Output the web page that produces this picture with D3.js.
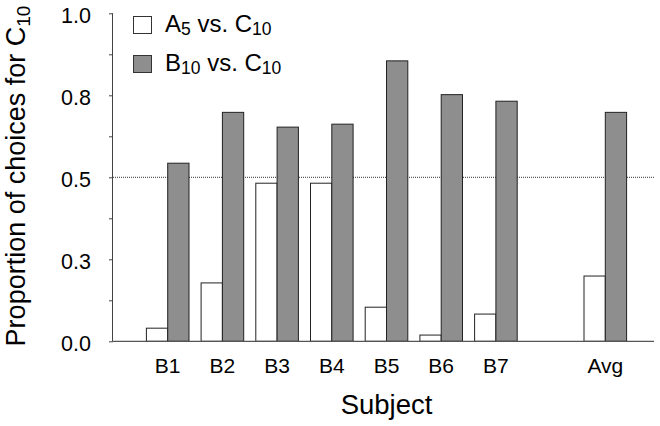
<!DOCTYPE html>
<html><head><meta charset="utf-8">
<script src="https://cdn.jsdelivr.net/npm/d3@7"></script>
<style>body{margin:0;background:#fff}svg text{font-family:"Liberation Sans",Arial,sans-serif;fill:#000}</style>
</head><body><svg id="c" width="660" height="426"></svg>
<script>
const subjects = ["B1","B2","B3","B4","B5","B6","B7","","Avg"];
const seriesA5 = [0.04,0.178,0.482,0.482,0.104,0.019,0.083,null,0.199];
const seriesB10 = [0.543,0.698,0.653,0.662,0.855,0.752,0.732,null,0.698];
const yTicks = [0,0.25,0.5,0.75,1.0];
const yTickLabels = ["0.0","0.3","0.5","0.8","1.0"];
const yMinorTicks = [0,0.125,0.25,0.375,0.5,0.625,0.75,0.875,1.0];

const svg = d3.select("#c");
const axL = 113, axR = 654, yTop = 13.3, yBot = 341.3, step = 54.7, barW = 21.3;
const y = d3.scaleLinear().domain([0,1]).range([yBot,yTop]);
const x = d3.scalePoint().domain(subjects).range([axL+step, axL+step*subjects.length]);

// reference line at 0.5
svg.append("line").attr("x1",axL).attr("x2",axR).attr("y1",y(0.5)).attr("y2",y(0.5))
  .attr("stroke","#333").attr("stroke-width",1).attr("stroke-dasharray","1,1");

// bars
const idx = d3.range(subjects.length).filter(i => seriesA5[i] !== null);
svg.selectAll("rect.a").data(idx).join("rect")
  .attr("x", i => x(subjects[i]) - barW).attr("width", barW)
  .attr("y", i => y(seriesA5[i])).attr("height", i => y(0) - y(seriesA5[i]))
  .attr("fill","#fff").attr("stroke","#222").attr("stroke-width",1);
svg.selectAll("rect.b").data(idx).join("rect")
  .attr("x", i => x(subjects[i])).attr("width", barW)
  .attr("y", i => y(seriesB10[i])).attr("height", i => y(0) - y(seriesB10[i]))
  .attr("fill","#8e8e8e").attr("stroke","#222").attr("stroke-width",1);

// y axis
const yAxis = d3.axisLeft(y).tickValues(yMinorTicks).tickSize(4).tickFormat("");
const gy = svg.append("g").attr("transform",`translate(${axL},0)`).call(yAxis);
gy.select(".domain").attr("stroke","#444").attr("d",`M-0.5,${yTop}V${yBot}`);
gy.selectAll(".tick line").attr("stroke","#444");
svg.selectAll("text.yl").data(yTicks).join("text").attr("class","yl")
  .attr("x", axL - 22).attr("y", d => y(d) + 10).attr("text-anchor","end")
  .attr("font-size",21.5).text((d,i) => yTickLabels[i]);

// x axis
svg.append("line").attr("x1",axL).attr("x2",axR).attr("y1",yBot).attr("y2",yBot)
  .attr("stroke","#555").attr("stroke-width",1.2);
svg.selectAll("text.xl").data(subjects.filter(s => s)).join("text").attr("class","xl")
  .attr("x", d => x(d)).attr("y", 373).attr("text-anchor","middle")
  .attr("font-size",21).text(d => d);

// axis titles
svg.append("text").attr("x",(axL+axR)/2+3).attr("y",414).attr("text-anchor","middle")
  .attr("font-size",27.5).text("Subject");
const yt = svg.append("text").attr("transform","translate(25,176) rotate(-90)")
  .attr("text-anchor","middle").attr("font-size",27);
yt.append("tspan").text("Proportion of choices for C");
yt.append("tspan").attr("font-size",19).attr("dy",5).text("10");

// legend
const legend = [
  {fill:"#fff", main:"A", sub:"5", rest:" vs. C", sub2:"10"},
  {fill:"#8e8e8e", main:"B", sub:"10", rest:" vs. C", sub2:"10"}
];
legend.forEach((L,i) => {
  const gy0 = 16 + i*39;
  svg.append("rect").attr("x",133.5).attr("y",gy0+0.5).attr("width",18).attr("height",17)
    .attr("fill",L.fill).attr("stroke","#333").attr("stroke-width",1);
  const t = svg.append("text").attr("x",165).attr("y",gy0+15.5).attr("font-size",24);
  t.append("tspan").text(L.main);
  t.append("tspan").attr("font-size",17.5).attr("dy",3).text(L.sub);
  t.append("tspan").attr("dy",-3).text(L.rest);
  t.append("tspan").attr("font-size",17.5).attr("dy",3).text(L.sub2);
});
</script></body></html>
